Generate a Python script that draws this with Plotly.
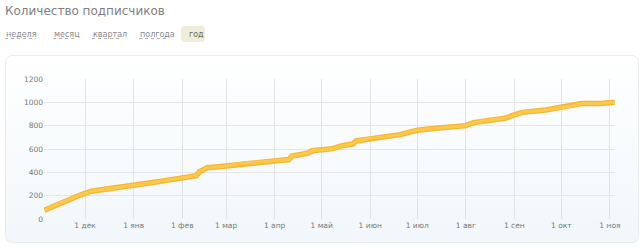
import base64
import plotly.graph_objects as go

# ---- data ----
dates = [
    "2012-11-05", "2012-11-11", "2012-11-19", "2012-11-26", "2012-12-01",
    "2012-12-05", "2012-12-17", "2012-12-25", "2013-01-01", "2013-01-12",
    "2013-01-23", "2013-02-01", "2013-02-10", "2013-02-12", "2013-02-17",
    "2013-02-24", "2013-03-01", "2013-03-12", "2013-03-24", "2013-04-01",
    "2013-04-10", "2013-04-12", "2013-04-17", "2013-04-22", "2013-04-25",
    "2013-05-01", "2013-05-08", "2013-05-14", "2013-05-21", "2013-05-23",
    "2013-06-01", "2013-06-11", "2013-06-20", "2013-06-26", "2013-07-01",
    "2013-07-13", "2013-08-01", "2013-08-06", "2013-08-13", "2013-08-26",
    "2013-09-01", "2013-09-06", "2013-09-21", "2013-10-01", "2013-10-08",
    "2013-10-14", "2013-10-26", "2013-11-04",
]
subscribers = [
    75, 112, 160, 195, 220,
    238, 262, 280, 290, 310,
    333, 350, 372, 405, 440,
    448, 455, 477, 490, 503,
    510, 540, 549, 563, 585,
    591, 603, 628, 643, 669,
    691, 706, 723, 749, 760,
    777, 800, 826, 843, 863,
    893, 914, 934, 954, 969,
    990, 991, 1000,
]
tick_dates = ["2012-12-01", "2013-01-01", "2013-02-01", "2013-03-01", "2013-04-01",
              "2013-05-01", "2013-06-01", "2013-07-01", "2013-08-01", "2013-09-01",
              "2013-10-01", "2013-11-01"]
tick_labels = ["1 дек", "1 янв", "1 фев", "1 мар", "1 апр", "1 май",
               "1 июн", "1 июл", "1 авг", "1 сен", "1 окт", "1 ноя"]
y_ticks = [0, 200, 400, 600, 800, 1000, 1200]
title_text = "Количество подписчиков"
periods = ["неделя", "месяц", "квартал", "полгода", "год"]

# ---- geometry helpers (pixel -> paper) ----
W, H = 644, 248
L, R, T, B = 44, 29, 79, 29
PW, PH = W - L - R, H - T - B

def px(x):
    return (x - L) / PW

def py(y):
    return (H - B - y) / PH

fig = go.Figure()
fig.add_trace(go.Scatter(x=dates, y=subscribers, mode="lines",
                         line=dict(color="#f4b736", width=5.5), hoverinfo="skip"))
fig.add_trace(go.Scatter(x=dates, y=subscribers, mode="lines",
                         line=dict(color="#fdc84a", width=3)))

# container background with gradient
svg = ('<svg xmlns="http://www.w3.org/2000/svg" width="634" height="188" viewBox="0 0 634 188">'
       '<defs><linearGradient id="g" x1="0" y1="0" x2="0" y2="1">'
       '<stop offset="0" stop-color="#ffffff"/><stop offset="1" stop-color="#f1f7fa"/>'
       '</linearGradient></defs>'
       '<rect x="0.5" y="0.5" width="633" height="187" rx="6" ry="6" fill="url(#g)" stroke="#e8ecee"/>'
       '</svg>')
src = "data:image/svg+xml;base64," + base64.b64encode(svg.encode()).decode()
fig.add_layout_image(dict(source=src, xref="paper", yref="paper",
                          x=px(5), y=py(55), sizex=px(639) - px(5), sizey=py(55) - py(243),
                          xanchor="left", yanchor="top", sizing="stretch", layer="below"))

annotations = [dict(text=title_text, xref="paper", yref="paper", x=px(3), y=py(11),
                    xanchor="left", yanchor="middle", showarrow=False,
                    font=dict(family="DejaVu Sans", size=12, color="#808080"))]
shapes = []
btn_x = [4, 52, 91, 138, 187]
for name, bx in zip(periods, btn_x):
    annotations.append(dict(text=name, xref="paper", yref="paper", x=px(bx), y=py(34),
                            xanchor="left", yanchor="middle", showarrow=False,
                            font=dict(family="DejaVu Sans", size=8,
                                      color="#6f6a55" if name == "год" else "#8a8a8a")))
btn_w = [32, 23, 30, 31]
for bx, bw in zip(btn_x[:4], btn_w):
    shapes.append(dict(type="line", xref="paper", yref="paper",
                       x0=px(bx + 1), x1=px(bx + bw), y0=py(38.5), y1=py(38.5),
                       line=dict(color="#b0b0b0", width=1, dash="dot")))

# rounded highlight box behind "год"
x0, x1, y0, y1, r = 181, 205, 26, 42, 4
pts = (f"M {px(x0 + r)},{py(y0)} L {px(x1 - r)},{py(y0)} Q {px(x1)},{py(y0)} {px(x1)},{py(y0 + r)} "
       f"L {px(x1)},{py(y1 - r)} Q {px(x1)},{py(y1)} {px(x1 - r)},{py(y1)} "
       f"L {px(x0 + r)},{py(y1)} Q {px(x0)},{py(y1)} {px(x0)},{py(y1 - r)} "
       f"L {px(x0)},{py(y0 + r)} Q {px(x0)},{py(y0)} {px(x0 + r)},{py(y0)} Z")
shapes.append(dict(type="path", xref="paper", yref="paper", layer="below", path=pts,
                   fillcolor="#efecd9", line=dict(width=0)))

fig.update_layout(
    width=W, height=H, margin=dict(l=L, r=R, t=T, b=B),
    paper_bgcolor="white", plot_bgcolor="rgba(0,0,0,0)",
    showlegend=False,
    annotations=annotations, shapes=shapes,
    xaxis=dict(range=["2012-11-04 18:00", "2013-11-04 06:00"], tickvals=tick_dates,
               ticktext=tick_labels, showgrid=True, gridcolor="#e3e3e3", gridwidth=1,
               zeroline=False, showline=False, ticks="",
               tickfont=dict(family="DejaVu Sans", size=7.5, color="#777")),
    yaxis=dict(range=[0, 1200], tickvals=y_ticks, showgrid=True, gridcolor="#e6e6e6",
               zeroline=False, showline=False, ticks="",
               tickfont=dict(family="DejaVu Sans", size=7.5, color="#777")),
)
fig.write_html("out.html")
